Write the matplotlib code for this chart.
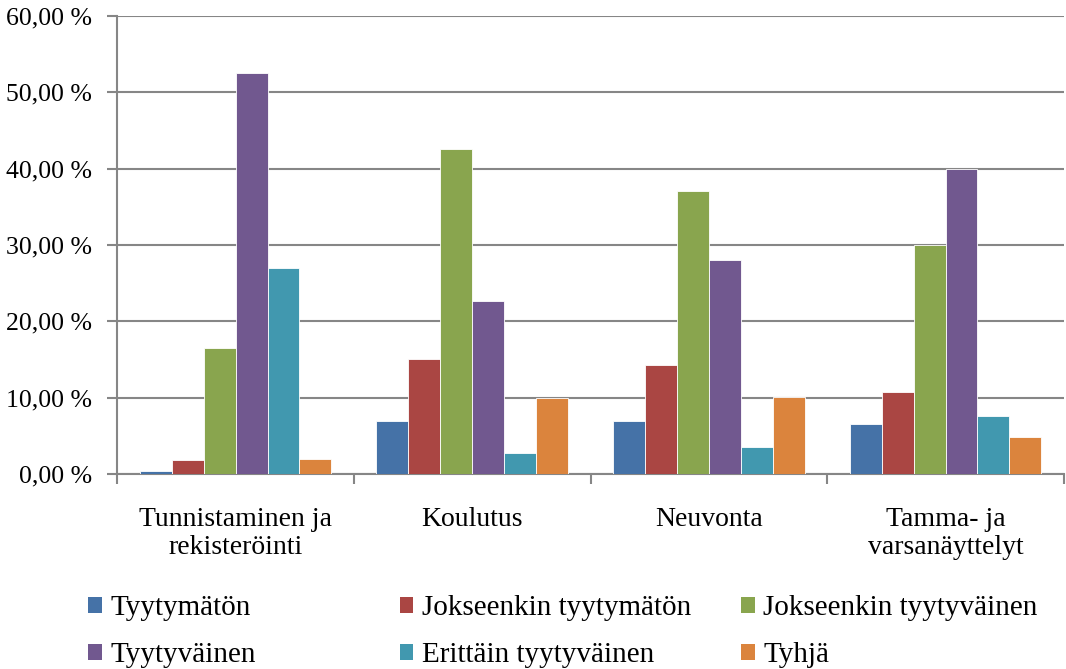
import numpy as np
import matplotlib.pyplot as plt
from matplotlib.patches import Patch

categories = ['Tunnistaminen ja\nrekisteröinti', 'Koulutus', 'Neuvonta', 'Tamma- ja\nvarsanäyttelyt']
series = ['Tyytymätön', 'Jokseenkin tyytymätön', 'Jokseenkin tyytyväinen',
          'Tyytyväinen', 'Erittäin tyytyväinen', 'Tyhjä']
tyytymaton = [0.4, 6.9, 6.9, 6.5]
jokseenkin_tyytymaton = [1.8, 15.1, 14.3, 10.8]
jokseenkin_tyytyvainen = [16.5, 42.6, 37.1, 30.0]
tyytyvainen = [52.5, 22.6, 28.0, 40.0]
erittain_tyytyvainen = [27.0, 2.7, 3.5, 7.6]
tyhja = [2.0, 10.0, 10.1, 4.9]
values = [tyytymaton, jokseenkin_tyytymaton, jokseenkin_tyytyvainen,
          tyytyvainen, erittain_tyytyvainen, tyhja]
colors = ['#4572a7', '#aa4643', '#89a54e', '#71588f', '#4198af', '#db843d']

plt.rcParams['font.family'] = ['Liberation Serif', 'DejaVu Serif']

fig = plt.figure(figsize=(10.66, 6.69), dpi=100)
ax = fig.add_axes([0.11, 0.2915, 0.888, 0.6845])

x = np.arange(len(categories))
w = 0.135
for i, (name, vals) in enumerate(zip(series, values)):
    ax.bar(x + (i - 2.5) * w, vals, width=w, color=colors[i], edgecolor='white',
           linewidth=0.6, label=name, zorder=3)

ax.set_xlim(-0.5, 3.5)
ax.set_ylim(0, 60)
ax.set_yticks(np.arange(0, 61, 10))
ax.set_yticklabels([f'{v:.2f} %'.replace('.', ',') for v in np.arange(0, 61, 10)], fontsize=18.5)
ax.yaxis.grid(True, color='#868686', linewidth=1.5, zorder=0)

ax.set_xticks(np.arange(-0.5, 4, 1))
ax.set_xticklabels([])
ax.set_xticks(x, minor=True)
ax.set_xticklabels(categories, minor=True, fontsize=20, linespacing=1.15)
ax.tick_params(axis='x', which='minor', length=0, pad=24)
ax.tick_params(axis='x', which='major', length=7, width=1.5, color='#868686')
ax.tick_params(axis='y', length=7, width=1.5, color='#868686', pad=11)

for s in ['top', 'right']:
    ax.spines[s].set_visible(False)
for s in ['left', 'bottom']:
    ax.spines[s].set_color('#868686')
    ax.spines[s].set_linewidth(1.5)

# legend: three columns placed by hand
col_x = [0.0826, 0.375, 0.695]
for c in range(3):
    idx = [c, c + 3]
    handles = [Patch(facecolor=colors[k], edgecolor='none') for k in idx]
    fig.legend(handles, [series[k] for k in idx], loc='upper left',
               bbox_to_anchor=(col_x[c], 0.11), frameon=False, fontsize=21,
               handlelength=0.47, handleheight=0.5, handletextpad=0.3,
               labelspacing=0.72, borderaxespad=0, borderpad=0)

fig.savefig('out.png', dpi=100)
